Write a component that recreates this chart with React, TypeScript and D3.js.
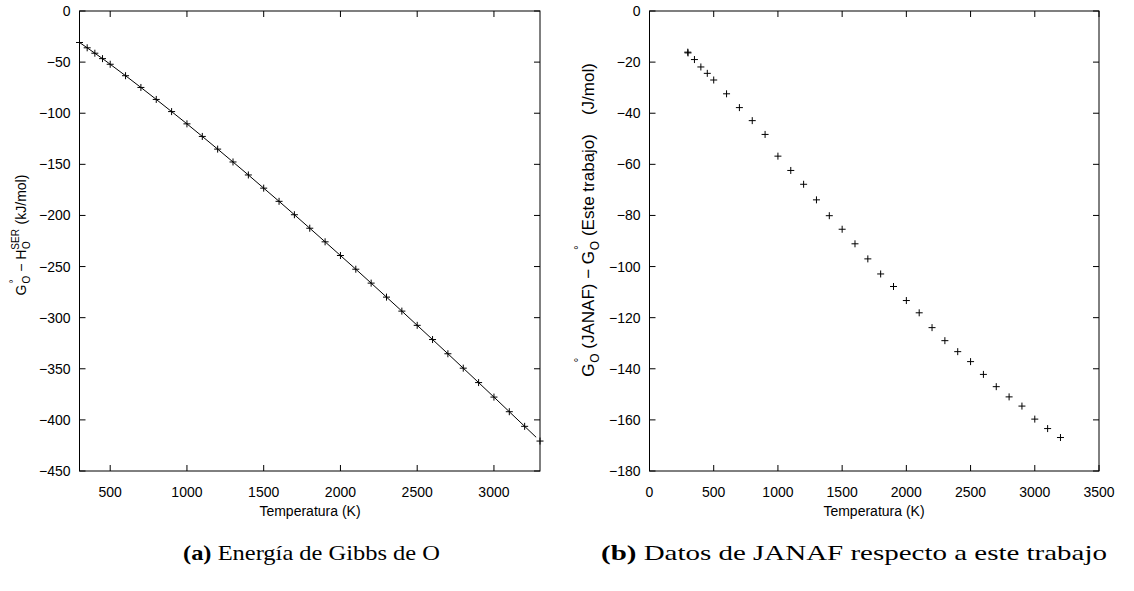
import React from "react";
import * as d3 from "d3";

// ---- Data ----
// (a) Gibbs energy of O, G°_O - H^SER_O (kJ/mol)
const tempsA = [300, 350, 400, 450, 500, 600, 700, 800, 900, 1000, 1100, 1200, 1300, 1400, 1500, 1600, 1700, 1800, 1900, 2000, 2100, 2200, 2300, 2400, 2500, 2600, 2700, 2800, 2900, 3000, 3100, 3200, 3300];
const gibbsA = [-30.8, -36.0, -41.3, -46.6, -52.1, -63.3, -74.8, -86.5, -98.4, -110.4, -122.7, -135.1, -147.7, -160.4, -173.3, -186.2, -199.3, -212.5, -225.8, -239.2, -252.6, -266.2, -279.9, -293.6, -307.5, -321.4, -335.3, -349.4, -363.5, -377.7, -392.0, -406.3, -420.7];
// fitted curve (solid line)
const lineTempsA = [300, 350, 400, 450, 500, 600, 700, 800, 900, 1000, 1100, 1200, 1300, 1400, 1500, 1600, 1700, 1800, 1900, 2000, 2100, 2200, 2300, 2400, 2500, 2600, 2700, 2800, 2900, 3000, 3100, 3200, 3275];
const lineGibbsA = [-30.8, -36.0, -41.3, -46.6, -52.1, -63.3, -74.8, -86.5, -98.4, -110.4, -122.7, -135.1, -147.7, -160.4, -173.3, -186.2, -199.3, -212.5, -225.8, -239.2, -252.6, -266.2, -279.9, -293.6, -307.5, -321.4, -335.3, -349.4, -363.5, -377.7, -392.0, -406.3, -417.0];

// (b) JANAF minus this work (J/mol)
const tempsB = [298, 300, 350, 400, 450, 500, 600, 700, 800, 900, 1000, 1100, 1200, 1300, 1400, 1500, 1600, 1700, 1800, 1900, 2000, 2100, 2200, 2300, 2400, 2500, 2600, 2700, 2800, 2900, 3000, 3100, 3200];
const diffB = [-16.1, -16.4, -19.0, -21.9, -24.4, -27.0, -32.4, -37.8, -42.9, -48.3, -56.8, -62.4, -67.8, -73.9, -80.1, -85.4, -91.1, -97.0, -102.9, -107.8, -113.3, -118.1, -123.9, -129.0, -133.3, -137.2, -142.2, -147.0, -151.0, -154.6, -159.7, -163.4, -166.9];

const xTicksA = [500, 1000, 1500, 2000, 2500, 3000];
const yTicksA = [0, -50, -100, -150, -200, -250, -300, -350, -400, -450];
const xTicksB = [0, 500, 1000, 1500, 2000, 2500, 3000, 3500];
const yTicksB = [0, -20, -40, -60, -80, -100, -120, -140, -160, -180];

const FONT = "'Liberation Sans', Arial, Helvetica, sans-serif";
const SERIF = "'Liberation Serif', 'Times New Roman', serif";
const fmt = (v: number) => (v < 0 ? "\u2212" + Math.abs(v) : String(v));

type PanelProps = {
  xDomain: [number, number];
  yDomain: [number, number];
  x0: number; x1: number; y0: number; y1: number;
  xTicks: number[]; yTicks: number[];
  pts: [number, number][];
  line?: [number, number][];
};

function Panel({ xDomain, yDomain, x0, x1, y0, y1, xTicks, yTicks, pts, line }: PanelProps) {
  const x = d3.scaleLinear().domain(xDomain).range([x0, x1]);
  const y = d3.scaleLinear().domain(yDomain).range([y0, y1]);
  const tl = 6;
  const lineGen = d3.line<[number, number]>().x(d => x(d[0])).y(d => y(d[1]));
  const m = 3.5;
  return (
    <g>
      <rect x={x0} y={y0} width={x1 - x0} height={y1 - y0} fill="none" stroke="#000" strokeWidth={1} />
      {xTicks.map(t => (
        <g key={"x" + t}>
          <line x1={x(t)} x2={x(t)} y1={y1} y2={y1 - tl} stroke="#000" />
          <line x1={x(t)} x2={x(t)} y1={y0} y2={y0 + tl} stroke="#000" />
          <text x={x(t)} y={y1 + 26} textAnchor="middle" fontFamily={FONT} fontSize={14} fill="#000">{fmt(t)}</text>
        </g>
      ))}
      {yTicks.map(t => (
        <g key={"y" + t}>
          <line x1={x0} x2={x0 + tl} y1={y(t)} y2={y(t)} stroke="#000" />
          <line x1={x1} x2={x1 - tl} y1={y(t)} y2={y(t)} stroke="#000" />
          <text x={x0 - 9} y={y(t) + 5} textAnchor="end" fontFamily={FONT} fontSize={14} fill="#000">{fmt(t)}</text>
        </g>
      ))}
      {line && <path d={lineGen(line) || ""} fill="none" stroke="#000" strokeWidth={1} />}
      {pts.map((p, i) => (
        <g key={"p" + i} stroke="#000" strokeWidth={1}>
          <line x1={x(p[0]) - m} x2={x(p[0]) + m} y1={y(p[1])} y2={y(p[1])} />
          <line x1={x(p[0])} x2={x(p[0])} y1={y(p[1]) - m} y2={y(p[1]) + m} />
        </g>
      ))}
    </g>
  );
}

export default function App() {
  const ptsA: [number, number][] = tempsA.map((t, i) => [t, gibbsA[i]]);
  const lineA: [number, number][] = lineTempsA.map((t, i) => [t, lineGibbsA[i]]);
  const ptsB: [number, number][] = tempsB.map((t, i) => [t, diffB[i]]);
  return (
    <svg width={1134} height={591} style={{ position: "absolute", left: 0, top: 0, background: "#fff" }}>
      <rect width={1134} height={591} fill="#fff" />
      <Panel xDomain={[300, 3300]} yDomain={[0, -450]} x0={79.5} x1={540} y0={11} y1={471}
        xTicks={xTicksA} yTicks={yTicksA} pts={ptsA} line={lineA} />
      <Panel xDomain={[0, 3500]} yDomain={[0, -180]} x0={649.5} x1={1099} y0={11} y1={471}
        xTicks={xTicksB} yTicks={yTicksB} pts={ptsB} />

      {/* x labels */}
      <text x={310} y={516} textAnchor="middle" fontFamily={FONT} fontSize={14}>Temperatura (K)</text>
      <text x={874} y={516} textAnchor="middle" fontFamily={FONT} fontSize={14}>Temperatura (K)</text>

      {/* y label (a) */}
      <text transform="translate(26,235) rotate(-90)" textAnchor="middle" fontFamily={FONT} fontSize={14}>
        <tspan>G</tspan>
        <tspan fontSize={10} dy={-9} dx={1}>°</tspan>
        <tspan fontSize={10} dy={13} dx={-4}>O</tspan>
        <tspan dy={-4}> − H</tspan>
        <tspan fontSize={10} dy={-7}>SER</tspan>
        <tspan fontSize={10} dy={11} dx={-20}>O</tspan>
        <tspan dy={-4} dx={13}>  (kJ/mol)</tspan>
      </text>

      {/* y label (b) */}
      <text transform="translate(594,220) rotate(-90)" textAnchor="middle" fontFamily={FONT} fontSize={17} style={{ whiteSpace: "pre" }}>
        <tspan>G</tspan>
        <tspan fontSize={12} dy={-11} dx={1}>°</tspan>
        <tspan fontSize={12} dy={16} dx={-5}>O</tspan>
        <tspan dy={-5}>{" (JANAF) \u2212 G"}</tspan>
        <tspan fontSize={12} dy={-11} dx={1}>°</tspan>
        <tspan fontSize={12} dy={16} dx={-5}>O</tspan>
        <tspan dy={-5}>{" (Este trabajo)    (J/mol)"}</tspan>
      </text>

      {/* captions */}
      <text x={183} y={560} fontFamily={SERIF} fontSize={21} textLength={257} lengthAdjust="spacingAndGlyphs">
        <tspan fontWeight="bold">(a)</tspan> Energía de Gibbs de O
      </text>
      <text x={601} y={560} fontFamily={SERIF} fontSize={21} textLength={506} lengthAdjust="spacingAndGlyphs">
        <tspan fontWeight="bold">(b)</tspan> Datos de JANAF respecto a este trabajo
      </text>
    </svg>
  );
}
